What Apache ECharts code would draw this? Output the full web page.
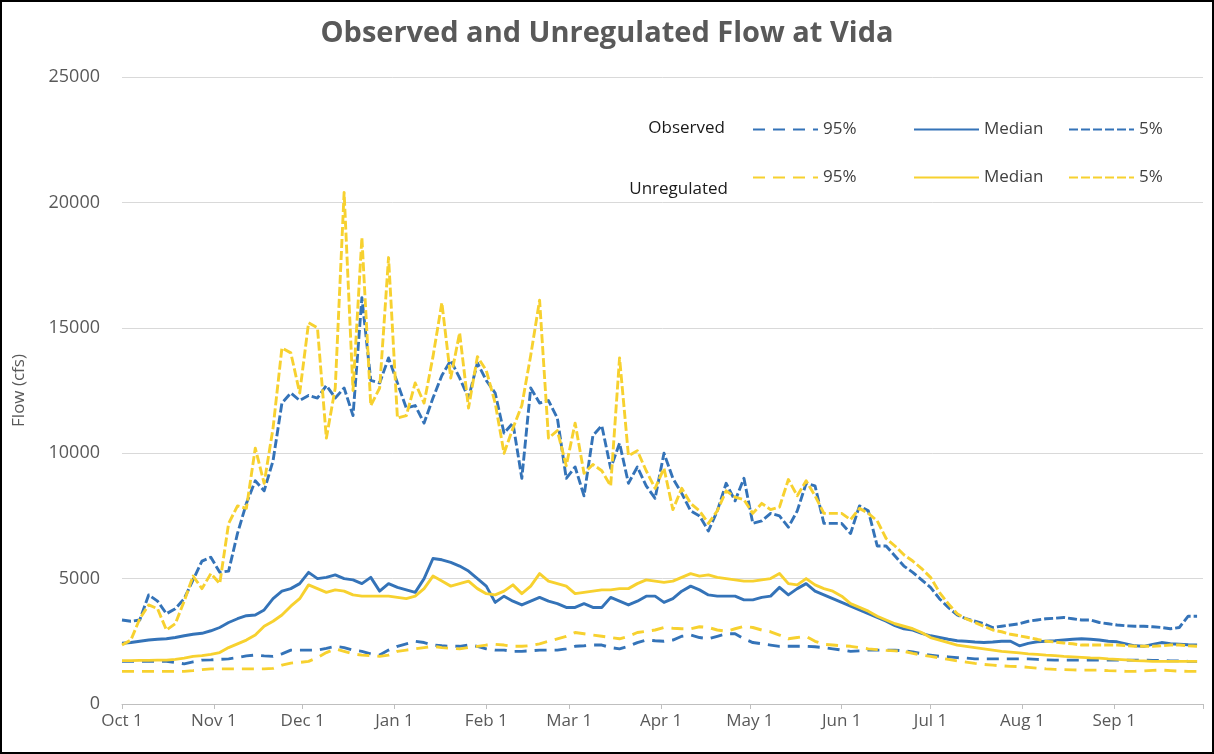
<!DOCTYPE html>
<html>
<head>
<meta charset="utf-8">
<script src="https://cdn.jsdelivr.net/npm/echarts@6/dist/echarts.min.js"></script>
<style>
html,body{margin:0;padding:0;background:#fff;}
#chart{position:absolute;left:0;top:0;width:1214px;height:754px;}
#frame{position:absolute;left:0;top:0;width:1214px;height:754px;box-sizing:border-box;border:2px solid #000;pointer-events:none;}
</style>
</head>
<body>
<div id="chart"></div>
<div id="frame"></div>
<script>
// Tick labels (month starts, day offset from Oct 1)
const monthLabels = ['Oct 1','Nov 1','Dec 1','Jan 1','Feb 1','Mar 1','Apr 1','May 1','Jun 1','Jul 1','Aug 1','Sep 1'];
const monthStarts = [0,31,61,92,123,151,182,212,243,273,304,335];
const yearEnd = 365;
// Sample days: every 3rd day starting Oct 1
const sampleStep = 3;
const days = [];
for (let d = 0; d <= 363; d += sampleStep) days.push(d);

// Flow values (cfs)
const observed95 = [1700,1700,1700,1700,1700,1700,1650,1600,1680,1750,
1760,1780,1800,1850,1920,1950,1920,1900,2000,2150,
2150,2150,2150,2220,2300,2250,2150,2100,2000,1950,
2150,2300,2400,2500,2450,2350,2320,2300,2300,2350,
2300,2200,2150,2150,2100,2100,2120,2150,2150,2150,
2200,2300,2320,2350,2350,2250,2200,2300,2450,2550,
2520,2500,2550,2700,2750,2650,2600,2700,2800,2800,
2600,2450,2400,2350,2300,2300,2300,2300,2280,2250,
2200,2150,2100,2120,2150,2150,2150,2150,2120,2080,
2000,1950,1900,1880,1850,1830,1800,1800,1800,1800,
1800,1800,1800,1780,1760,1750,1750,1750,1750,1750,
1750,1750,1750,1750,1750,1750,1740,1730,1720,1720,1700,1700];

const observedMedian = [2420,2450,2500,2550,2580,2600,2650,2720,2780,2820,
2920,3050,3250,3400,3520,3550,3750,4200,4500,4600,
4800,5250,5000,5050,5150,5000,4950,4800,5050,4500,
4800,4650,4550,4450,5000,5800,5750,5650,5500,5300,
5000,4700,4050,4300,4100,3950,4100,4250,4100,4000,
3850,3850,4000,3850,3850,4250,4100,3950,4100,4300,
4300,4050,4200,4500,4700,4550,4350,4300,4300,4300,
4150,4150,4250,4300,4650,4350,4600,4800,4500,4350,
4200,4050,3900,3750,3600,3450,3300,3120,3000,2950,
2820,2720,2650,2580,2520,2500,2470,2450,2470,2500,
2500,2320,2420,2480,2500,2520,2550,2580,2600,2580,
2550,2500,2480,2400,2320,2300,2380,2450,2400,2380,2360,2350];

const observed5 = [3350,3300,3350,4350,4100,3600,3800,4200,4950,5700,
5850,5250,5300,6800,8000,8900,8500,9700,12000,12400,
12100,12300,12200,12700,12200,12600,11500,16200,12900,12800,
13800,12800,11800,11900,11200,12200,13100,13700,13000,12200,
13600,12900,12400,10800,11200,9000,12600,12000,12100,11400,
9000,9450,8300,10700,11100,9400,10400,8800,9450,8700,
8200,10000,9000,8400,7700,7500,6900,7700,8800,8100,
9000,7200,7300,7600,7500,7050,7700,8800,8700,7200,
7200,7200,6800,7900,7700,6300,6300,5900,5500,5250,
4950,4650,4200,3850,3550,3400,3300,3200,3050,3100,
3150,3200,3300,3350,3400,3420,3450,3400,3350,3350,
3250,3200,3150,3120,3100,3100,3080,3050,3000,3050,3500,3500];

const unregulated95 = [1300,1300,1300,1300,1300,1300,1300,1300,1330,1370,
1400,1400,1400,1400,1400,1400,1400,1420,1550,1630,
1660,1700,1850,2050,2200,2100,2000,1950,1930,1900,
1950,2100,2150,2200,2250,2300,2250,2220,2200,2250,
2300,2350,2380,2350,2300,2300,2330,2400,2500,2600,
2700,2850,2800,2750,2700,2650,2600,2700,2850,2900,
2950,3050,3020,3000,3000,3080,3050,2950,2900,3000,
3100,3050,2950,2880,2750,2600,2650,2700,2500,2380,
2350,2320,2300,2250,2200,2170,2140,2120,2100,2020,
1950,1900,1840,1780,1720,1670,1620,1580,1550,1520,
1500,1490,1460,1430,1400,1380,1370,1360,1350,1350,
1350,1330,1320,1300,1300,1320,1340,1350,1330,1310,1300,1300];

const unregulatedMedian = [1730,1730,1740,1740,1750,1750,1780,1830,1900,1930,
1980,2050,2250,2400,2550,2750,3100,3300,3550,3900,
4200,4750,4600,4450,4550,4500,4350,4300,4300,4300,
4300,4250,4200,4300,4600,5100,4900,4700,4800,4900,
4600,4400,4350,4500,4750,4400,4700,5200,4900,4800,
4700,4400,4450,4500,4550,4550,4600,4600,4800,4950,
4900,4850,4900,5050,5200,5100,5150,5050,5000,4950,
4900,4900,4950,5000,5200,4800,4750,5000,4750,4600,
4500,4300,4000,3850,3700,3500,3350,3200,3100,3000,
2850,2650,2550,2450,2350,2300,2250,2200,2150,2100,
2070,2040,2000,1980,1950,1930,1900,1880,1860,1840,
1830,1800,1780,1760,1730,1720,1700,1700,1700,1700,1700,1700];

const unregulated5 = [2350,2550,3400,3950,3800,2950,3200,4100,5100,4600,
5200,4800,7200,7900,7800,10200,8800,11000,14200,14000,
12400,15200,15000,10600,12600,20400,12500,18600,11900,12600,
17800,11400,11500,12800,12000,13850,16000,13000,14800,11800,
13850,13300,12000,10000,11000,11900,13900,16100,10600,10900,
9500,11200,9200,9550,9300,8700,13800,9900,10100,9300,
8600,9400,7750,8600,8000,7700,7200,7700,8500,8250,
8150,7600,8000,7750,7850,8950,8300,8900,8300,7600,
7600,7600,7350,7800,7600,7300,6600,6300,5950,5700,
5400,5050,4450,4000,3600,3400,3250,3100,2950,2880,
2780,2720,2650,2580,2500,2470,2430,2400,2350,2350,
2350,2350,2350,2330,2300,2300,2300,2320,2350,2350,2320,2300];

const seriesNames = ['Observed 95%','Observed Median','Observed 5%','Unregulated 95%','Unregulated Median','Unregulated 5%'];
const seriesValues = [observed95, observedMedian, observed5, unregulated95, unregulatedMedian, unregulated5];
const BLUE = '#3473b8', YELLOW = '#f7d12f';
const LONG = [12, 8], SHORT = [9, 3];
const styles = [
  {color: BLUE, type: LONG}, {color: BLUE, type: 'solid'}, {color: BLUE, type: SHORT},
  {color: YELLOW, type: LONG}, {color: YELLOW, type: 'solid'}, {color: YELLOW, type: SHORT}
];
const FONT = '"Open Sans", "Noto Sans", sans-serif';

const series = seriesNames.map((name, i) => ({
  name: name,
  type: 'line',
  symbol: 'none',
  showSymbol: false,
  animation: false,
  color: styles[i].color,
  lineStyle: {color: styles[i].color, width: 2.9, type: styles[i].type, cap: 'butt', join: 'round'},
  data: days.map((d, j) => [d, seriesValues[i][j]])
}));

const legendX = [747, 908, 1063];
const legendY = [116, 164];
const legends = [];
seriesNames.forEach((name, i) => {
  legends.push({
    data: [name],
    left: legendX[i % 3],
    top: legendY[Math.floor(i / 3)],
    itemWidth: 65,
    itemHeight: 14,
    selectedMode: false,
    itemStyle: {opacity: 0, color: 'transparent', borderWidth: 0},
    formatter: n => n.replace(/^(Observed|Unregulated) /, ''),
    textStyle: {fontFamily: FONT, fontSize: 17, color: '#404040'}
  });
});

const chart = echarts.init(document.getElementById('chart'), null, {renderer: 'canvas'});
chart.setOption({
  backgroundColor: '#fff',
  animation: false,
  title: {
    text: 'Observed and Unregulated Flow at Vida',
    left: 'center',
    top: 14,
    textStyle: {fontFamily: FONT, fontSize: 29, fontWeight: 'bold', color: '#595959'}
  },
  legend: legends,
  graphic: [
    {type: 'text', right: 1214 - 725, top: 120, style: {text: 'Observed', font: '17px "Open Sans", "Noto Sans", sans-serif', fill: '#1a1a1a'}},
    {type: 'text', right: 1214 - 728, top: 181, style: {text: 'Unregulated', font: '17px "Open Sans", "Noto Sans", sans-serif', fill: '#1a1a1a'}}
  ],
  grid: {left: 122, right: 11, top: 77, bottom: 50, containLabel: false},
  xAxis: {
    type: 'value',
    min: 0,
    max: yearEnd,
    axisLine: {show: true, lineStyle: {color: '#bfbfbf', width: 1}},
    axisTick: {show: true, length: 5, customValues: monthStarts.concat([yearEnd]), lineStyle: {color: '#bfbfbf'}},
    axisLabel: {
      customValues: monthStarts,
      formatter: v => monthLabels[monthStarts.indexOf(v)] || '',
      fontFamily: FONT, fontSize: 17, color: '#595959', margin: 9
    },
    splitLine: {show: false}
  },
  yAxis: {
    type: 'value',
    min: 0,
    max: 25000,
    interval: 5000,
    name: 'Flow (cfs)',
    nameLocation: 'middle',
    nameRotate: 90,
    nameGap: 94,
    nameTextStyle: {fontFamily: FONT, fontSize: 17, color: '#595959'},
    axisLine: {show: false},
    axisTick: {show: false},
    axisLabel: {fontFamily: FONT, fontSize: 18, color: '#595959', margin: 22, formatter: v => String(v)},
    splitLine: {lineStyle: {color: '#d9d9d9', width: 1}}
  },
  series: series
});
</script>
</body>
</html>
